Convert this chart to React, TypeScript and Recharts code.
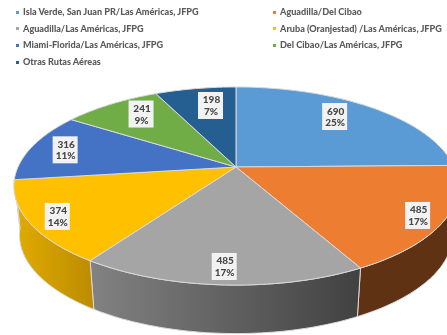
import { Legend, Pie, PieChart } from "recharts";

const routes = [
  "Isla Verde, San Juan PR/Las Américas, JFPG",
  "Aguadilla/Del Cibao",
  "Aguadilla/Las Américas, JFPG",
  "Aruba (Oranjestad) /Las Américas, JFPG",
  "Miami-Florida/Las Américas, JFPG",
  "Del Cibao/Las Américas, JFPG",
  "Otras Rutas Aéreas",
];
const passengers = [690, 485, 485, 374, 316, 241, 198];
// shares as printed on the chart
const shares = ["25%", "17%", "17%", "14%", "11%", "9%", "7%"];
const topColors = ["#5b9bd5", "#ed7d31", "#a5a5a5", "#ffc000", "#4472c4", "#70ad47", "#255e91"];
const sideColors = ["#3a6a96", "#5f3214", "url(#sideGray)", "url(#sideYellow)", "#2f4f88", "#4e7a31", "#1a4265"];

// label placement on the disc: fraction of the radius and small turn in degrees
const labelRadius = [0.775, 0.889, 0.87, 0.882, 0.833, 0.79, 0.748];
const labelTurn = [-4, 1, 0, -0.7, 0, 3, 2.5];

const rows = routes.map((name, i) => ({
  name,
  value: passengers[i],
  fill: topColors[i],
  side: sideColors[i],
}));

// perspective of the tilted disc
const CX = 236;
const TOP_Y = 167;
const TOP_A = 218;
const TOP_B = 95.4;
const LOW_Y = 216;
const LOW_A = 212.5;
const LOW_B = 95;
const TILT = -0.192;
const SIDE_FROM = 88;
const SIDE_TO = 263;

const project = (clock: number, f: number, low = false) => {
  const rad = (clock * Math.PI) / 180;
  const u = Math.sin(rad) * f;
  const v = -Math.cos(rad) * f;
  const w = 1 + TILT * v;
  return {
    x: CX + ((low ? LOW_A : TOP_A) * u) / w,
    y: (low ? LOW_Y : TOP_Y) + ((low ? LOW_B : TOP_B) * v) / w,
  };
};

const arc = (from: number, to: number, low = false) => {
  const pts = [];
  const steps = Math.max(2, Math.ceil(to - from));
  for (let i = 0; i <= steps; i++) {
    pts.push(project(from + ((to - from) * i) / steps, 1, low));
  }
  return pts;
};

const toPath = (pts: { x: number; y: number }[]) =>
  pts.map((p, i) => `${i ? "L" : "M"}${p.x.toFixed(1)} ${p.y.toFixed(1)}`).join(" ") + " Z";

const TopSlice = (props: any) => {
  const from = 90 - props.startAngle;
  const to = 90 - props.endAngle;
  const d = toPath([project(0, 0), ...arc(from, to)]);
  return <path d={d} fill={props.fill} stroke="#d9d9d9" strokeWidth={1} strokeLinejoin="round" />;
};

const SideSlice = (props: any) => {
  const from = Math.max(90 - props.startAngle, SIDE_FROM);
  const to = Math.min(90 - props.endAngle, SIDE_TO);
  if (to <= from) return <g />;
  const d = toPath([...arc(from, to), ...arc(from, to, true).reverse()]);
  return <path d={d} fill={props.payload?.side ?? props.side} stroke="#d9d9d9" strokeWidth={1} />;
};

const SliceLabel = (props: any) => {
  const i = props.index;
  const mid = 90 - (props.startAngle + props.endAngle) / 2;
  const p = project(mid + labelTurn[i], labelRadius[i]);
  return (
    <g>
      <rect x={p.x - 12.5} y={p.y - 13.5} width={25} height={27} fill="#f2f2f2" />
      <text x={p.x + 1} y={p.y - 2} textAnchor="middle" fontFamily="Lato" fontWeight={900} fontSize={10} fill="#484848">
        {props.value}
      </text>
      <text x={p.x + 0.5} y={p.y + 9.5} textAnchor="middle" fontFamily="Lato" fontWeight={900} fontSize={10} fill="#484848">
        {shares[i]}
      </text>
    </g>
  );
};

const RouteLegend = () => (
  <div
    style={{
      display: "grid",
      gridTemplateColumns: "257px 167px",
      gridAutoRows: "16.6px",
      paddingLeft: 16,
      fontFamily: "Lato",
      fontWeight: 900,
      fontSize: 9.1,
      color: "#5a5a5a",
      lineHeight: "16.6px",
      whiteSpace: "nowrap",
    }}
  >
    {routes.map((name, i) => (
      <div key={name} style={{ display: "flex", alignItems: "center" }}>
        <span style={{ width: 3, height: 3, flexShrink: 0, background: topColors[i], marginRight: 4 }} />
        {name}
      </div>
    ))}
  </div>
);

export default function App() {
  return (
    <div
      style={{
        position: "absolute",
        left: 0,
        top: 0,
        width: 447,
        height: 335,
        overflow: "hidden",
        filter: "blur(0.35px)",
      }}
    >
      <PieChart width={447} height={335} margin={{ top: 0, right: 0, bottom: 0, left: 0 }}>
        <defs>
          <linearGradient id="sideGray" x1="0" y1="0" x2="1" y2="0">
            <stop offset="0%" stopColor="#828282" />
            <stop offset="100%" stopColor="#414141" />
          </linearGradient>
          <linearGradient id="sideYellow" x1="0" y1="0" x2="1" y2="0">
            <stop offset="0%" stopColor="#e2ab00" />
            <stop offset="100%" stopColor="#bb8c00" />
          </linearGradient>
        </defs>
        <Legend
          verticalAlign="top"
          align="left"
          content={<RouteLegend />}
          wrapperStyle={{ left: 0, top: 4, width: 447 }}
        />
        <Pie
          data={rows}
          dataKey="value"
          nameKey="name"
          cx={236}
          cy={167}
          outerRadius={100}
          startAngle={90}
          endAngle={-270}
          paddingAngle={0}
          legendType="none"
          shape={SideSlice}
          isAnimationActive={false}
        />
        <Pie
          data={rows}
          dataKey="value"
          nameKey="name"
          cx={236}
          cy={167}
          outerRadius={100}
          startAngle={90}
          endAngle={-270}
          paddingAngle={0}
          shape={TopSlice}
          label={SliceLabel}
          labelLine={false}
          isAnimationActive={false}
        />
      </PieChart>
    </div>
  );
}
